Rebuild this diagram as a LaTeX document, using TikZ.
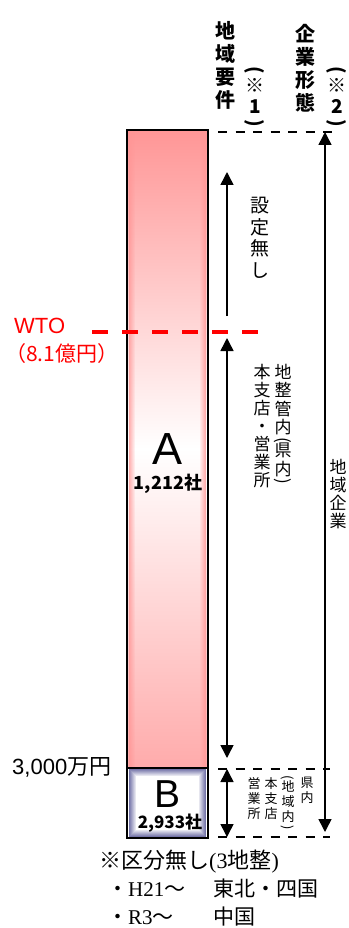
\documentclass[tikz,border=0pt]{standalone}
\usepackage{fontspec}
\usepackage{graphicx}
\setmainfont{Liberation Sans}
\newfontfamily\jp{Noto Sans CJK JP}
\newfontfamily\serifjp{Liberation Serif}
\usetikzlibrary{arrows.meta}
\definecolor{barpink}{RGB}{255,150,150}
\definecolor{barblue}{RGB}{110,110,165}
\newcommand{\vpar}[1]{\rotatebox[origin=c]{-90}{#1}}
\newcommand{\fs}[2]{\fontsize{#1}{#2}\selectfont}

\begin{document}
\begin{tikzpicture}[x=1pt, y=-1pt,
    arr/.style = {line width=1.5pt, -{Triangle[width=13pt,length=13pt]}},
    darr/.style = {line width=1.5pt, {Triangle[width=13pt,length=13pt]}-{Triangle[width=13pt,length=13pt]}},
    cut/.style = {line width=2.6pt, dash pattern=on 9pt off 8.5pt},
    wto/.style = {red, line width=3.5pt, dash pattern=on 16pt off 14pt},
    bar/.style = {draw, line width=2pt, minimum width=81pt, inner sep=0pt},
    tate/.style = {anchor=north, align=center, inner sep=0pt},
    lbl/.style = {inner sep=0pt}]
\useasboundingbox (0,0) rectangle (348,928);

% bars
\node[bar, minimum height=638pt, top color=barpink, bottom color=barpink!80, middle color=white] (barA) at (167.5,449) {};
\foreach \i [evaluate=\i as \op using 0.75-0.12*\i] in {0,...,5}
  \draw[barpink, line width=1pt, opacity=\op] (129.5+\i,131) -- (129.5+\i,767) (205.5-\i,131) -- (205.5-\i,767);
\node[bar, line width=2.5pt, minimum height=70pt, fill=white] (barB) at (167.5,803) {};
\foreach \i [evaluate=\i as \op using 0.95-0.13*\i] in {0,...,6}
  \draw[barblue, line width=1pt, opacity=\op] (129.5+\i,769.5+\i) rectangle (205.5-\i,836.5-\i);

\node[lbl, font=\fs{45}{45}] (letA) at (168,449) {A};
\node[lbl, font=\jp\bfseries\fs{18}{18}] (numA) at (168,484) {1,212社};
\node[lbl, font=\fs{39}{39}] (letB) at (168,794) {B};
\node[lbl, font=\jp\bfseries\fs{17}{17}] (numB) at (170,823) {2,933社};

% left labels
\node[lbl, red, font=\fs{22}{22}, anchor=west] (wto) at (14,326) {WTO};
\node[lbl, red, font=\jp\fs{21}{21}, anchor=west] (wtoval) at (5,354) {（8.1億円）};
\node[lbl, font=\fs{22}{22}, anchor=west] (border) at (12,767) {3,000\jp 万円};

% column heads
\node[tate, font=\jp\bfseries\fs{20}{23}] (reqhead) at (225,21) {地\\域\\要\\件};
\node[tate, font=\jp\bfseries\fs{19}{21}] (note1) at (255,66) {\vpar{(}\\[-5pt]※\\1\\[-5pt]\vpar{)}};
\node[tate, font=\jp\bfseries\fs{20}{23}] (formhead) at (305,24) {企\\業\\形\\態};
\node[tate, font=\jp\bfseries\fs{19}{21}] (note2) at (337,66) {\vpar{(}\\[-5pt]※\\2\\[-5pt]\vpar{)}};

% dashed levels
\coordinate (headl) at (218,132);
\coordinate (headr) at (333,132);
\draw[cut, line width=2.4pt] (headl) -- (headr);
\coordinate (bupl) at (218,769);
\coordinate (bupr) at (330,769);
\coordinate (blowl) at (218,837);
\coordinate (blowr) at (330,837);
\draw[cut] (bupl) -- (bupr);
\draw[cut] (blowl) -- (blowr);

% arrows
\coordinate (nosetlo) at (227,316);
\coordinate (nosethi) at (227,172);
\coordinate (kennaihi) at (227,338);
\coordinate (kennailo) at (227,758);
\coordinate (bhi) at (227,769);
\coordinate (blo) at (227,837);
\coordinate (chiikihi) at (325,132);
\coordinate (chiikilo) at (325,832);
\draw[arr] (nosetlo) -- (nosethi);
\draw[darr] (kennaihi) -- (kennailo);
\draw[darr] (bhi) -- (blo);
\draw[darr] (chiikihi) -- (chiikilo);

% WTO line
\coordinate (wtol) at (92,332);
\coordinate (wtor) at (258,332);
\draw[wto] (wtol) -- (wtor);

% arrow labels
\node[tate, font=\jp\fs{19}{21.5}] (noset) at (260,197) {設\\定\\無\\し};
\node[tate, font=\jp\fs{17}{18.5}] (kannai) at (283,364) {地\\整\\管\\内\\[-7pt]\vpar{(}\\[-7pt]県\\内\\[-7pt]\vpar{)}};
\node[tate, font=\jp\fs{17}{18}] (shiten) at (262,364) {本\\支\\店\\・\\営\\業\\所};
\node[tate, font=\jp\fs{17}{18}] (chiiki) at (338,459) {地\\域\\企\\業};
\node[tate, font=\jp\fs{13}{15}] (kennai) at (307,777) {県\\内};
\node[tate, font=\jp\fs{13}{15}] (chiikinai) at (288,775) {\vpar{(}\\[-5pt]地\\域\\内\\[-5pt]\vpar{)}};
\node[tate, font=\jp\fs{13}{15}] (honten) at (271,777) {本\\支\\店};
\node[tate, font=\jp\fs{13}{15}] (eigyo) at (254,777) {営\\業\\所};

% notes
\node[lbl, anchor=west, font=\jp\fs{22}{22}] (kubun) at (99,862) {※区分無し{\serifjp(3}地整{\serifjp)}};
\node[lbl, anchor=west, font=\jp\fs{21}{21}] (h21) at (107,889) {\makebox[106pt][l]{・{\serifjp H21}～}東北・四国};
\node[lbl, anchor=west, font=\jp\fs{21}{21}] (r3) at (107,917) {\makebox[106pt][l]{・{\serifjp R3}～}中国};
\end{tikzpicture}
\end{document}
